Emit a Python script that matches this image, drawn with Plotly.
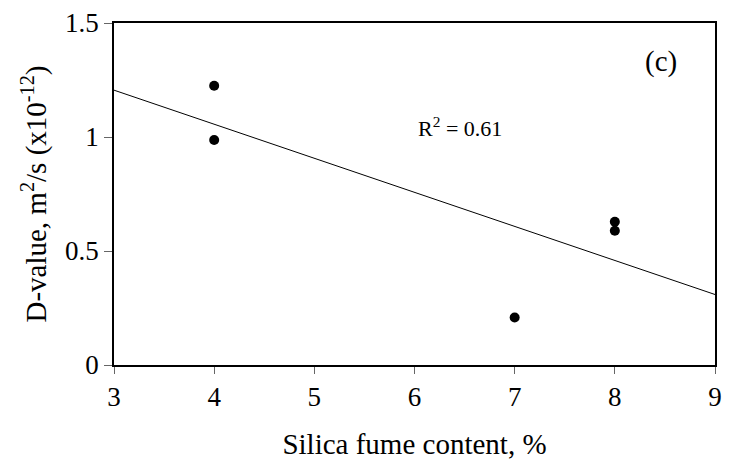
import numpy as np
import plotly.graph_objects as go

silica_fume = [4, 4, 7, 8, 8]
d_value = [1.225, 0.987, 0.208, 0.628, 0.589]
x_ticks = [3, 4, 5, 6, 7, 8, 9]
y_ticks = [0, 0.5, 1, 1.5]
y_tick_labels = ["0", "0.5", "1", "1.5"]

slope, intercept = np.polyfit(silica_fume, d_value, 1)
fit_x = [3, 9]
fit_y = [slope * v + intercept for v in fit_x]

font = "Liberation Serif, Times New Roman, serif"

fig = go.Figure()
fig.add_trace(go.Scatter(x=fit_x, y=fit_y, mode="lines",
                         line=dict(color="black", width=1), showlegend=False))
fig.add_trace(go.Scatter(x=silica_fume, y=d_value, mode="markers",
                         marker=dict(color="black", size=10), showlegend=False))

fig.add_annotation(x=0.91, y=0.887, xref="paper", yref="paper", text="(c)",
                   xanchor="center", yanchor="middle",
                   showarrow=False, font=dict(family=font, size=29, color="black"))
fig.add_annotation(x=0.576, y=0.695, xref="paper", yref="paper",
                   text="R<sup>2</sup> = 0.61", xanchor="center", yanchor="middle",
                   showarrow=False,
                   font=dict(family=font, size=22, color="black"))

fig.update_layout(
    width=730, height=467,
    margin=dict(l=114, r=8, t=17, b=102),
    paper_bgcolor="white", plot_bgcolor="white",
    font=dict(family=font, size=27, color="black"),
    xaxis=dict(range=[3, 9], tickvals=x_ticks, showgrid=False, zeroline=False,
               showline=True, linecolor="black", linewidth=1.5, mirror=True,
               ticks="outside", ticklen=7, tickcolor="#666",
               title=dict(text="Silica fume content, %", font=dict(size=29), standoff=23)),
    yaxis=dict(range=[0, 1.5], tickvals=y_ticks, ticktext=y_tick_labels,
               showgrid=False, zeroline=False,
               showline=True, linecolor="black", linewidth=1.5, mirror=True,
               ticks="outside", ticklen=8, tickcolor="#666",
               title=dict(text="D-value, m<sup>2</sup>/s (x10<sup>-12</sup>)",
                          font=dict(size=29), standoff=10)),
)

fig.write_html("out.html")
